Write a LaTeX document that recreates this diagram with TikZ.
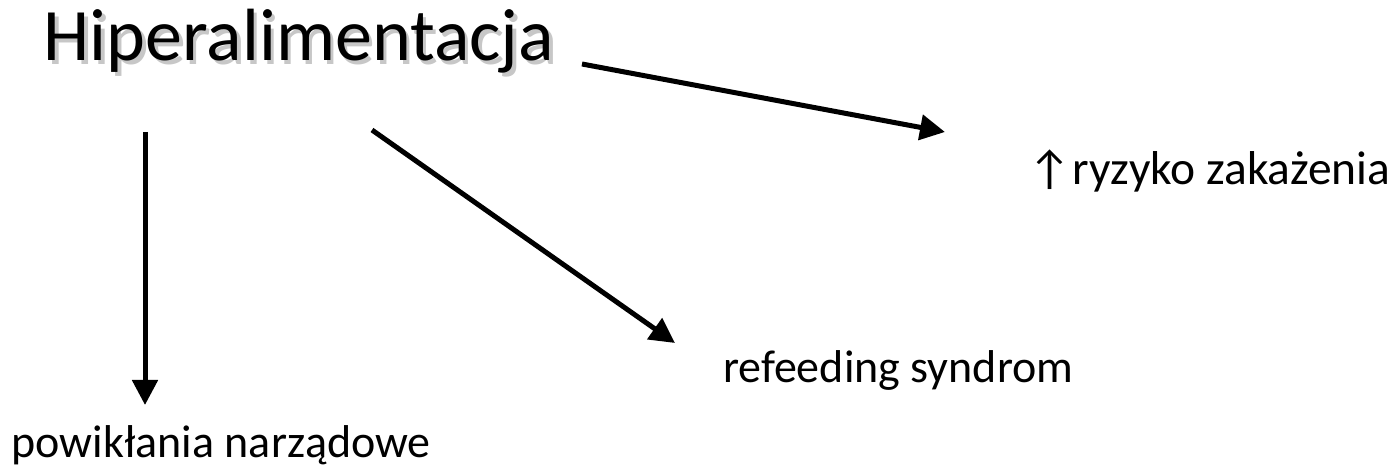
\documentclass[tikz,border=0pt]{standalone}
\usepackage{fontspec}
\setmainfont{Carlito}
\usetikzlibrary{arrows.meta}
\tikzset{
  lbl/.style={inner sep=0pt, anchor=base west, font=\fontsize{46}{52}\selectfont},
  ttl/.style={inner sep=0pt, anchor=base west, font=\fontsize{74}{80}\selectfont},
  conn/.style={line width=5pt, -{Triangle[length=25pt,width=25pt]}}
}
\begin{document}
\begin{tikzpicture}[x=1pt,y=-1pt]
\useasboundingbox (0,0) rectangle (1393,470);
\node[ttl, text=black!22] (titleshadow) at (47,64.5) {Hiperalimentacja};
\node[ttl] (title) at (43.5,61) {Hiperalimentacja};
\node[lbl, font=\fontsize{47.5}{52}\selectfont] (ryzyko) at (1028,185) {↑\hspace{1.5pt}ryzyko zakażenia};
\node[lbl] (refeed) at (723,383) {refeeding syndrom};
\node[lbl] (powik) at (11.5,457) {powikłania narządowe};
\coordinate (s1) at (582,64);
\coordinate (e1) at (945,132);
\coordinate (s2) at (372,130);
\coordinate (e2) at (675,343);
\coordinate (s3) at (145,132);
\coordinate (e3) at (145,405);
\draw[conn] (s1) -- (e1);
\draw[conn] (s2) -- (e2);
\draw[conn] (s3) -- (e3);
\end{tikzpicture}
\end{document}
